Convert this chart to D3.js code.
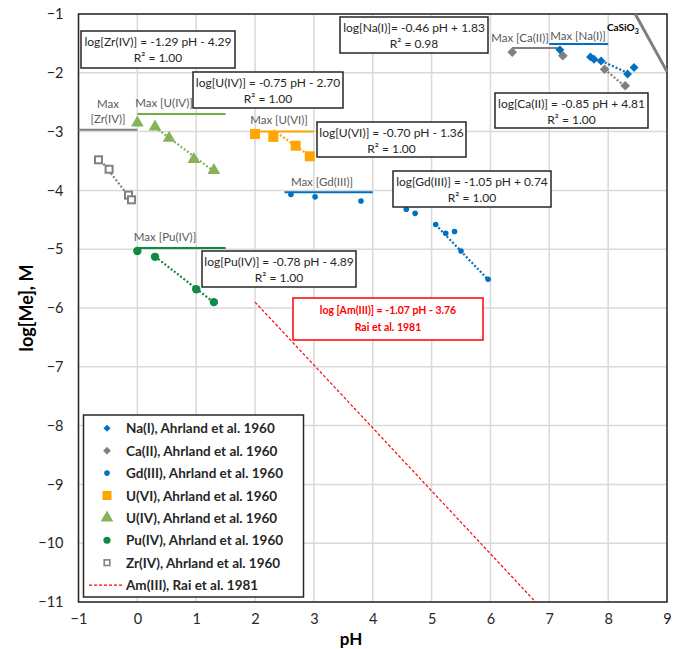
<!DOCTYPE html>
<html><head><meta charset="utf-8">
<script src="https://cdn.jsdelivr.net/npm/d3@7"></script>
<style>
body{margin:0;background:#fff;}
svg{display:block;font-family:Lato,"Open Sans",sans-serif;}
</style></head>
<body><svg id="c" width="684" height="649"></svg>
<script>
// ---------- data ----------
const xTicks = [-1,0,1,2,3,4,5,6,7,8,9];
const yTicks = [-1,-2,-3,-4,-5,-6,-7,-8,-9,-10,-11];

const naPH  = [7.18, 7.70, 7.76, 7.88, 8.33, 8.44];
const naLog = [-1.61, -1.73, -1.77, -1.80, -2.02, -1.91];
const caPH  = [6.37, 7.23, 7.94, 8.29];
const caLog = [-1.65, -1.71, -1.94, -2.22];
const gdPH  = [2.61, 3.02, 3.80, 4.57, 4.72, 5.07, 5.24, 5.39, 5.50, 5.96];
const gdLog = [-4.07, -4.11, -4.18, -4.32, -4.39, -4.58, -4.73, -4.70, -5.03, -5.51];
const u6PH  = [2.00, 2.31, 2.69, 2.93];
const u6Log = [-3.04, -3.09, -3.24, -3.42];
const u4PH  = [0.00, 0.30, 0.54, 0.96, 1.30];
const u4Log = [-2.85, -2.92, -3.11, -3.47, -3.66];
const puPH  = [0.00, 0.30, 1.00, 1.30];
const puLog = [-5.03, -5.13, -5.68, -5.90];
const zrPH  = [-0.66, -0.48, -0.15, -0.10];
const zrLog = [-3.48, -3.64, -4.08, -4.16];

// trend lines: slope, intercept, pH range
const trendNames  = ["Na","Ca","Gd","U6","U4","Pu","Zr"];
const trendSlope  = [-0.46, -0.85, -1.05, -0.70, -0.75, -0.78, -1.29];
const trendInt    = [1.83, 4.81, 0.74, -1.36, -2.70, -4.89, -4.29];
const trendFrom   = [7.88, 7.94, 5.07, 2.31, 0.30, 0.30, -0.66];
const trendTo     = [8.33, 8.29, 5.96, 2.93, 1.30, 1.30, -0.10];

// Am(III) Rai et al. 1981
const amSlope = -1.07, amInt = -3.76, amFrom = 2.0;

// Max solubility lines
const maxNames = ["Max [Zr(IV)]","Max [U(IV)]","Max [U(VI)]","Max [Gd(III)]","Max [Pu(IV)]","Max [Ca(II)]","Max [Na(I)]"];
const maxLevel = [-2.97, -2.70, -3.00, -4.03, -4.98, -1.58, -1.51];
const maxFrom  = [-1.0, 0.0, 2.0, 2.5, 0.0, 6.37, 7.0];
const maxTo    = [0.0, 1.5, 3.0, 4.0, 1.5, 7.15, 8.0];

// CaSiO3 line
const casioPH = [8.46, 9.0];
const casioLog = [-1.0, -1.98];

const eqTexts = [
  ["log[Zr(IV)] = -1.29 pH - 4.29","R² = 1.00"],
  ["log[U(IV)] = -0.75 pH - 2.70","R² = 1.00"],
  ["log[Na(I)]= -0.46 pH + 1.83","R² = 0.98"],
  ["log[Ca(II)] = -0.85 pH + 4.81","R² = 1.00"],
  ["log[U(VI)] = -0.70 pH - 1.36","R² = 1.00"],
  ["log[Gd(III)] = -1.05 pH + 0.74","R² = 1.00"],
  ["log[Pu(IV)] = -0.78 pH - 4.89","R² = 1.00"]
];
const amText = ["log [Am(III)] = -1.07 pH - 3.76","Rai et al. 1981"];

const legendLabels = ["Na(I), Ahrland et al. 1960","Ca(II), Ahrland et al. 1960","Gd(III), Ahrland et al. 1960",
  "U(VI), Ahrland et al. 1960","U(IV), Ahrland et al. 1960","Pu(IV), Ahrland et al. 1960","Zr(IV), Ahrland et al. 1960",
  "Am(III), Rai et al. 1981"];

// ---------- styles / layout ----------
const C = {na:"#0070C0", ca:"#808080", gd:"#0070C0", u6:"#FFA500", u4:"#86B25A", pu:"#0E8A45", zr:"#808080", am:"#FF0000"};
const trendColor = [C.na, C.ca, C.gd, C.u6, C.u4, C.pu, C.zr];
const maxColor = ["#7F7F7F", "#70AD47", "#FFA500", "#0070C0", "#0E8A45", "#7F7F7F", "#0070C0"];
// label anchor positions (px) for max labels
const maxLabelPos = [[108,108],[164,107],[279,124],[322,186],[165,241],[520,42],[578,40]];
// equation boxes [x0,y0,x1,y1]
const eqBoxes = [[81,31,235,68],[193,72,343,108],[340,17,488,53],[495,93,648,128],[317,122,466,157],[393,171,551,207],[202,251,356,287]];
const amBox = [293,298,483,340];

const svg = d3.select("#c");
const x = d3.scaleLinear().domain([-1,9]).range([78.5,667]);
const y = d3.scaleLinear().domain([-11,-1]).range([602,14]);

// grid
const g = svg.append("g");
g.selectAll(".vx").data(xTicks).join("line")
  .attr("x1",d=>x(d)).attr("x2",d=>x(d)).attr("y1",y(-1)).attr("y2",y(-11))
  .attr("stroke","#D9D9D9").attr("stroke-width",1.5);
g.selectAll(".hy").data(yTicks).join("line")
  .attr("y1",d=>y(d)).attr("y2",d=>y(d)).attr("x1",x(-1)).attr("x2",x(9))
  .attr("stroke","#D9D9D9").attr("stroke-width",1.5);

// axes labels via d3 axes
const xAxis = svg.append("g").attr("transform",`translate(0,${y(-11)})`)
  .call(d3.axisBottom(x).tickValues(xTicks).tickSize(0).tickPadding(12).tickFormat(d3.format("d")));
const yAxis = svg.append("g").attr("transform",`translate(${x(-1)},0)`)
  .call(d3.axisLeft(y).tickValues(yTicks).tickSize(0).tickPadding(15).tickFormat(d3.format("d")));
[xAxis,yAxis].forEach(a=>{a.select(".domain").remove();
  a.selectAll("text").attr("font-size",14.5).attr("fill","#262626").attr("font-family","Lato,sans-serif");});

// plot border
svg.append("rect").attr("x",x(-1)).attr("y",y(-1)).attr("width",x(9)-x(-1)).attr("height",y(-11)-y(-1))
  .attr("fill","none").attr("stroke","#262626").attr("stroke-width",1.5);

svg.append("text").attr("x",351).attr("y",645).attr("text-anchor","middle")
  .attr("font-size",17).attr("font-weight","bold").attr("fill","#000").text("pH");
svg.append("text").attr("transform",`translate(33,${(y(-1)+y(-11))/2}) rotate(-90)`).attr("text-anchor","middle")
  .attr("font-size",18).attr("font-weight","bold").attr("fill","#000").text("log[Me], M");

// CaSiO3 line
svg.append("line").attr("x1",x(casioPH[0])).attr("y1",y(casioLog[0])).attr("x2",x(casioPH[1])).attr("y2",y(casioLog[1]))
  .attr("stroke","#7F7F7F").attr("stroke-width",3);
const cs = svg.append("text").attr("x",607).attr("y",31).attr("text-anchor","start").attr("font-size",10)
  .attr("font-weight","bold").attr("fill","#000");
cs.append("tspan").text("CaSiO");
cs.append("tspan").attr("font-size",7).attr("dy",3).text("3");

// Am line
const amTo = (-11 - amInt)/amSlope;
svg.append("line").attr("x1",x(amFrom)).attr("y1",y(amSlope*amFrom+amInt)).attr("x2",x(amTo)).attr("y2",y(-11))
  .attr("stroke",C.am).attr("stroke-width",1.2).attr("stroke-dasharray","3,2");

// max lines
maxNames.forEach((n,i)=>{
  svg.append("line").attr("x1",x(maxFrom[i])).attr("x2",x(maxTo[i])).attr("y1",y(maxLevel[i])).attr("y2",y(maxLevel[i]))
    .attr("stroke",maxColor[i]).attr("stroke-width",2);
  const t = svg.append("text").attr("x",maxLabelPos[i][0]).attr("y",maxLabelPos[i][1]).attr("text-anchor","middle")
    .attr("font-size",11.5).attr("fill","#595959");
  if(i===0){
    t.append("tspan").attr("x",maxLabelPos[i][0]).attr("dy",0).text("Max");
    t.append("tspan").attr("x",maxLabelPos[i][0]).attr("dy",15).text("[Zr(IV)]");
  } else t.text(n);
});

// trend lines
trendNames.forEach((n,i)=>{
  svg.append("line").attr("x1",x(trendFrom[i])).attr("y1",y(trendSlope[i]*trendFrom[i]+trendInt[i]))
    .attr("x2",x(trendTo[i])).attr("y2",y(trendSlope[i]*trendTo[i]+trendInt[i]))
    .attr("stroke",trendColor[i]).attr("stroke-width",2.2).attr("stroke-dasharray","2,2");
});

// markers
function pts(ph,lg){return ph.map((p,i)=>[p,lg[i]]);}
function drawMarker(sel, type){
  if(type==="na") return sel.append("path").attr("d",d3.symbol(d3.symbolDiamond2,50)()).attr("fill",C.na);
  if(type==="ca") return sel.append("path").attr("d",d3.symbol(d3.symbolDiamond2,60)()).attr("fill",C.ca);
  if(type==="gd") return sel.append("circle").attr("r",2.8).attr("fill",C.gd);
  if(type==="u6") return sel.append("rect").attr("x",-5).attr("y",-5).attr("width",10).attr("height",10).attr("fill",C.u6);
  if(type==="u4") return sel.append("path").attr("d",d3.symbol(d3.symbolTriangle,70)()).attr("fill",C.u4);
  if(type==="pu") return sel.append("circle").attr("r",4.2).attr("fill",C.pu);
  if(type==="zr") return sel.append("rect").attr("x",-3.5).attr("y",-3.5).attr("width",7).attr("height",7).attr("fill","#fff").attr("stroke",C.zr).attr("stroke-width",2);
}
const series = [["zr",zrPH,zrLog],["u4",u4PH,u4Log],["pu",puPH,puLog],["u6",u6PH,u6Log],["gd",gdPH,gdLog],["ca",caPH,caLog],["na",naPH,naLog]];
series.forEach(([t,ph,lg])=>{
  pts(ph,lg).forEach(p=>{
    const s = svg.append("g").attr("transform",`translate(${x(p[0])},${y(p[1])})`);
    drawMarker(s,t);
  });
});

// equation boxes
eqTexts.forEach((tx,i)=>{
  const b = eqBoxes[i];
  svg.append("rect").attr("x",b[0]).attr("y",b[1]).attr("width",b[2]-b[0]).attr("height",b[3]-b[1])
    .attr("fill","#fff").attr("stroke","#262626").attr("stroke-width",1.5);
  const cx=(b[0]+b[2])/2;
  svg.append("text").attr("x",cx).attr("y",b[1]+15).attr("text-anchor","middle").attr("font-size",12).attr("fill","#262626").text(tx[0]);
  svg.append("text").attr("x",cx).attr("y",b[1]+31).attr("text-anchor","middle").attr("font-size",12).attr("fill","#262626").text(tx[1]);
});
svg.append("rect").attr("x",amBox[0]).attr("y",amBox[1]).attr("width",amBox[2]-amBox[0]).attr("height",amBox[3]-amBox[1])
  .attr("fill","#fff").attr("stroke",C.am).attr("stroke-width",1.5);
svg.append("text").attr("x",(amBox[0]+amBox[2])/2).attr("y",amBox[1]+16).attr("text-anchor","middle").attr("font-size",10.5)
  .attr("font-weight","bold").attr("fill",C.am).text(amText[0]);
svg.append("text").attr("x",(amBox[0]+amBox[2])/2).attr("y",amBox[1]+33).attr("text-anchor","middle").attr("font-size",10.5)
  .attr("font-weight","bold").attr("fill",C.am).text(amText[1]);

// legend
svg.append("rect").attr("x",83.5).attr("y",415).attr("width",220).attr("height",182)
  .attr("fill","#fff").attr("stroke","#262626").attr("stroke-width",1.5);
const legTypes = ["na","ca","gd","u6","u4","pu","zr","am"];
legendLabels.forEach((l,i)=>{
  const yy = 428.3 + i*22.4;
  const s = svg.append("g").attr("transform",`translate(107,${yy})`);
  if(legTypes[i]==="am"){
    s.append("line").attr("x1",-18).attr("x2",15).attr("stroke",C.am).attr("stroke-width",1.2).attr("stroke-dasharray","3,2");
  } else {
    const m = drawMarker(s,legTypes[i]);
    if(legTypes[i]==="na"||legTypes[i]==="ca") m.attr("transform","scale(0.8)");
    if(legTypes[i]==="u6") m.attr("transform","scale(0.9)");
    if(legTypes[i]==="pu") m.attr("transform","scale(0.85)");
    if(legTypes[i]==="zr") m.attr("transform","scale(0.8)");
  }
  svg.append("text").attr("x",126).attr("y",yy+5).attr("font-size",13.5).attr("font-weight","bold").attr("fill","#262626").text(l);
});
</script></body></html>
